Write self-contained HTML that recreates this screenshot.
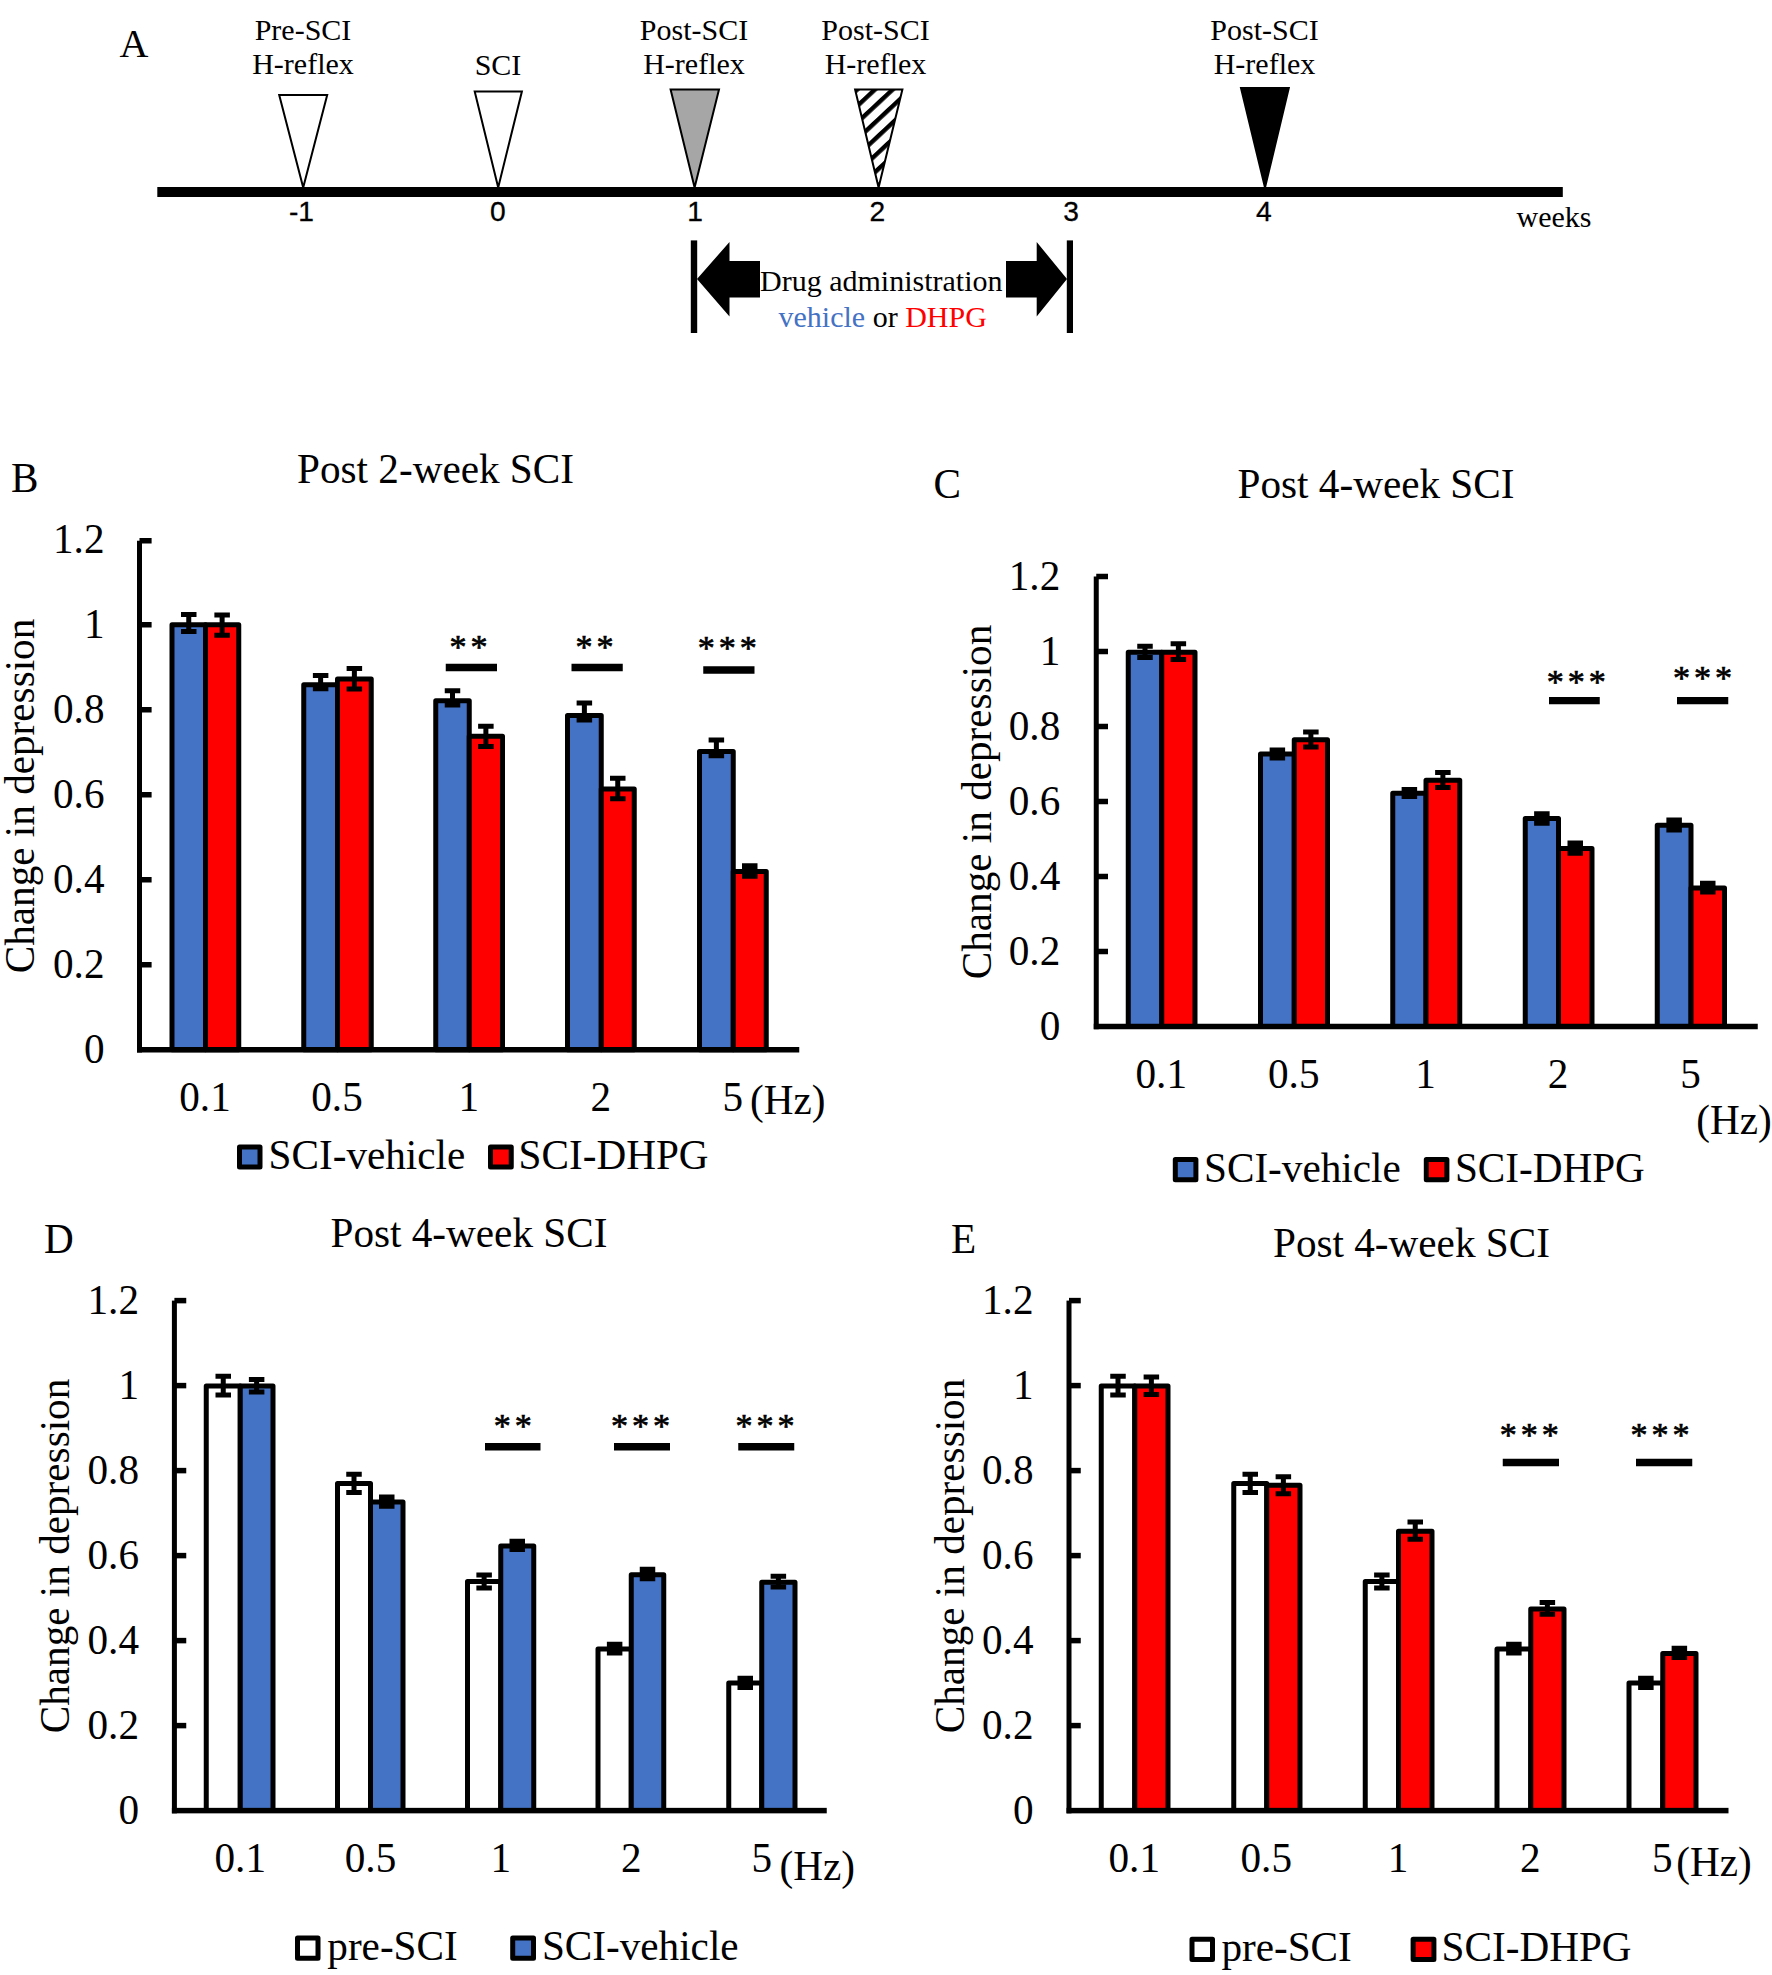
<!DOCTYPE html>
<html lang="en"><head><meta charset="utf-8"><title>Figure</title>
<style>html,body{margin:0;padding:0;background:#fff}svg{display:block}.s{font-family:"Liberation Serif","Times New Roman",serif}.n{font-family:"Liberation Sans",Arial,sans-serif}.b{stroke:#000;stroke-width:5;stroke-linejoin:round}.e{stroke:#000;stroke-width:5;fill:none;stroke-linecap:butt}.a{stroke:#000;stroke-width:.7}text{fill:#000}</style></head><body>
<svg width="1772" height="1975" viewBox="0 0 1772 1975">
<defs><pattern id="hatch" width="12.1" height="12.1" patternUnits="userSpaceOnUse" patternTransform="translate(878.6 119.2) rotate(-43) translate(0 -2.2)"><rect width="12.1" height="12.1" fill="#fff"/><rect y="0" width="12.1" height="4.4" fill="#000"/></pattern></defs>
<rect width="1772" height="1975" fill="#fff"/>
<text class="s" x="119.5" y="56.5" font-size="40">A</text>
<rect x="157.3" y="187" width="1405.5" height="10" fill="#000"/>
<text class="s" x="303" y="39.5" font-size="30" text-anchor="middle">Pre-SCI</text>
<text class="s" x="303" y="74" font-size="30" text-anchor="middle">H-reflex</text>
<text class="s" x="498" y="74.8" font-size="30" text-anchor="middle">SCI</text>
<text class="s" x="694" y="39.5" font-size="30" text-anchor="middle">Post-SCI</text>
<text class="s" x="694" y="74" font-size="30" text-anchor="middle">H-reflex</text>
<text class="s" x="875.5" y="39.5" font-size="30" text-anchor="middle">Post-SCI</text>
<text class="s" x="875.5" y="74" font-size="30" text-anchor="middle">H-reflex</text>
<text class="s" x="1264.5" y="39.5" font-size="30" text-anchor="middle">Post-SCI</text>
<text class="s" x="1264.5" y="74" font-size="30" text-anchor="middle">H-reflex</text>
<path d="M279.2 95H327.2L303.2 187.5Z" fill="#fff" stroke="#000" stroke-width="2" stroke-linejoin="miter"/>
<path d="M474.7 91.4H521.9L498.2 187.5Z" fill="#fff" stroke="#000" stroke-width="2" stroke-linejoin="miter"/>
<path d="M670.6 89.4H719L694.6 187.5Z" fill="#A6A6A6" stroke="#000" stroke-width="2" stroke-linejoin="miter"/>
<path d="M855.1 89.4H902.4L878.6 187.5Z" fill="url(#hatch)" stroke="#000" stroke-width="2" stroke-linejoin="miter"/>
<path d="M1241 88H1288.8L1265 187.5Z" fill="#000" stroke="#000" stroke-width="2" stroke-linejoin="miter"/>
<text class="n" x="301.5" y="221.2" font-size="28.2" text-anchor="middle" stroke="#000" stroke-width=".3">-1</text>
<text class="n" x="497.8" y="221.2" font-size="28.2" text-anchor="middle" stroke="#000" stroke-width=".3">0</text>
<text class="n" x="695" y="221.2" font-size="28.2" text-anchor="middle" stroke="#000" stroke-width=".3">1</text>
<text class="n" x="877.3" y="221.2" font-size="28.2" text-anchor="middle" stroke="#000" stroke-width=".3">2</text>
<text class="n" x="1071" y="221.2" font-size="28.2" text-anchor="middle" stroke="#000" stroke-width=".3">3</text>
<text class="n" x="1263.8" y="221.2" font-size="28.2" text-anchor="middle" stroke="#000" stroke-width=".3">4</text>
<text class="s" x="1516.5" y="227" font-size="30">weeks</text>
<rect x="690.8" y="240.4" width="6.4" height="92.6" fill="#000"/>
<rect x="1066.8" y="240.4" width="6.2" height="92.6" fill="#000"/>
<path d="M697 279L729.5 242V261H760V297.5H729.5V316.5Z"/>
<path d="M1067 279L1036.7 242V261H1006V297.5H1036.7V316.5Z"/>
<text class="s" x="760" y="290.8" font-size="30">Drug administration</text>
<text class="s" x="778.5" y="326.8" font-size="30"><tspan fill="#4472C4">vehicle</tspan> or <tspan fill="#FF0000">DHPG</tspan></text>
<rect class="b" x="172" y="624.75" width="33.5" height="425" fill="#4472C4"/>
<rect class="b" x="205.5" y="624.75" width="33.25" height="425" fill="#FF0000"/>
<rect class="b" x="303.75" y="684.75" width="33.75" height="365" fill="#4472C4"/>
<rect class="b" x="337.5" y="679" width="33.75" height="370.75" fill="#FF0000"/>
<rect class="b" x="435.75" y="700.8" width="33.5" height="348.95" fill="#4472C4"/>
<rect class="b" x="469.25" y="736.2" width="33.25" height="313.55" fill="#FF0000"/>
<rect class="b" x="567.5" y="715.4" width="33.75" height="334.35" fill="#4472C4"/>
<rect class="b" x="601.25" y="789" width="33" height="260.75" fill="#FF0000"/>
<rect class="b" x="699.5" y="751.5" width="33.75" height="298.25" fill="#4472C4"/>
<rect class="b" x="733.25" y="871.5" width="33" height="178.25" fill="#FF0000"/>
<rect x="137" y="540.75" width="5" height="511.75" fill="#000"/>
<rect x="137" y="1047" width="662.25" height="5.5" fill="#000"/>
<rect x="139.5" y="962" width="12.1" height="5.5" fill="#000"/>
<rect x="139.5" y="877" width="12.1" height="5.5" fill="#000"/>
<rect x="139.5" y="792" width="12.1" height="5.5" fill="#000"/>
<rect x="139.5" y="707" width="12.1" height="5.5" fill="#000"/>
<rect x="139.5" y="622" width="12.1" height="5.5" fill="#000"/>
<rect x="139.5" y="538" width="12.1" height="5.5" fill="#000"/>
<path class="e" d="M181 614.5H196.5M181 631.5H196.5M188.75 614.5V631.5"/>
<path class="e" d="M214.38 615H229.88M214.38 635.2H229.88M222.12 615V635.2"/>
<path class="e" d="M312.88 675.6H328.38M312.88 688.75H328.38M320.62 675.6V688.75"/>
<path class="e" d="M346.62 668.5H362.12M346.62 689H362.12M354.38 668.5V689"/>
<path class="e" d="M444.75 690.65H460.25M444.75 704.9H460.25M452.5 690.65V704.9"/>
<path class="e" d="M478.12 726.2H493.62M478.12 746.5H493.62M485.88 726.2V746.5"/>
<path class="e" d="M576.62 703.1H592.12M576.62 720.1H592.12M584.38 703.1V720.1"/>
<path class="e" d="M610 778.25H625.5M610 798.75H625.5M617.75 778.25V798.75"/>
<path class="e" d="M708.62 740H724.12M708.62 755.75H724.12M716.38 740V755.75"/>
<rect x="742" y="863.25" width="15.5" height="15.5" fill="#000"/>
<text class="s" x="104.5" y="1062.85" font-size="41.2" text-anchor="end">0</text>
<text class="s" x="104.5" y="977.85" font-size="41.2" text-anchor="end">0.2</text>
<text class="s" x="104.5" y="892.85" font-size="41.2" text-anchor="end">0.4</text>
<text class="s" x="104.5" y="807.85" font-size="41.2" text-anchor="end">0.6</text>
<text class="s" x="104.5" y="722.85" font-size="41.2" text-anchor="end">0.8</text>
<text class="s" x="104.5" y="637.85" font-size="41.2" text-anchor="end">1</text>
<text class="s" x="104.5" y="552.85" font-size="41.2" text-anchor="end">1.2</text>
<text class="s" x="205" y="1111" font-size="41.2" text-anchor="middle">0.1</text>
<text class="s" x="337" y="1111" font-size="41.2" text-anchor="middle">0.5</text>
<text class="s" x="468.75" y="1111" font-size="41.2" text-anchor="middle">1</text>
<text class="s" x="600.75" y="1111" font-size="41.2" text-anchor="middle">2</text>
<text class="s" x="732.75" y="1111" font-size="41.2" text-anchor="middle">5</text>
<text class="s" x="750" y="1113.75" font-size="41.2">(Hz)</text>
<text class="s" x="297.1" y="482.5" font-size="41.2">Post 2-week SCI</text>
<text class="s" x="11" y="491.5" font-size="41.2">B</text>
<text class="s" font-size="41.2" text-anchor="middle" transform="translate(33.75 796) rotate(-90)">Change in depression</text>
<text class="s a" x="449.5" y="658.25" font-size="34" letter-spacing="4">**</text>
<rect x="445.75" y="663.75" width="51.25" height="7.5" fill="#000"/>
<text class="s a" x="575.4" y="658.25" font-size="34" letter-spacing="4">**</text>
<rect x="571.5" y="663.75" width="51.25" height="7.5" fill="#000"/>
<text class="s a" x="697.75" y="659" font-size="34" letter-spacing="4">***</text>
<rect x="703.25" y="666.25" width="51.25" height="7.5" fill="#000"/>
<rect class="b" x="239.5" y="1147" width="20.5" height="20" fill="#4472C4"/>
<text class="s" x="268.6" y="1168.75" font-size="41.2">SCI-vehicle</text>
<rect class="b" x="490.5" y="1147" width="20.75" height="20" fill="#FF0000"/>
<text class="s" x="518.6" y="1168.75" font-size="41.2">SCI-DHPG</text>
<rect class="b" x="1128.25" y="652.25" width="33.5" height="374.25" fill="#4472C4"/>
<rect class="b" x="1161.75" y="652.25" width="33.25" height="374.25" fill="#FF0000"/>
<rect class="b" x="1260.5" y="754" width="33.75" height="272.5" fill="#4472C4"/>
<rect class="b" x="1294.25" y="739.75" width="33.25" height="286.75" fill="#FF0000"/>
<rect class="b" x="1392.75" y="793.25" width="33.25" height="233.25" fill="#4472C4"/>
<rect class="b" x="1426" y="780.25" width="33.75" height="246.25" fill="#FF0000"/>
<rect class="b" x="1525.25" y="818.5" width="33.25" height="208" fill="#4472C4"/>
<rect class="b" x="1558.5" y="848.5" width="33.5" height="178" fill="#FF0000"/>
<rect class="b" x="1657.25" y="825.25" width="33.75" height="201.25" fill="#4472C4"/>
<rect class="b" x="1691" y="887.9" width="33.5" height="138.6" fill="#FF0000"/>
<rect x="1093.75" y="576.5" width="5" height="452.75" fill="#000"/>
<rect x="1093.75" y="1023.75" width="664" height="5.5" fill="#000"/>
<rect x="1096.25" y="948.75" width="11.75" height="5.5" fill="#000"/>
<rect x="1096.25" y="873.75" width="11.75" height="5.5" fill="#000"/>
<rect x="1096.25" y="798.75" width="11.75" height="5.5" fill="#000"/>
<rect x="1096.25" y="723.75" width="11.75" height="5.5" fill="#000"/>
<rect x="1096.25" y="648.75" width="11.75" height="5.5" fill="#000"/>
<rect x="1096.25" y="573.75" width="11.75" height="5.5" fill="#000"/>
<path class="e" d="M1137.25 646.25H1152.75M1137.25 657.5H1152.75M1145 646.25V657.5"/>
<path class="e" d="M1170.62 643.75H1186.12M1170.62 659.5H1186.12M1178.38 643.75V659.5"/>
<rect x="1269.62" y="747.5" width="15.5" height="13" fill="#000"/>
<path class="e" d="M1303.12 732H1318.62M1303.12 747H1318.62M1310.88 732V747"/>
<rect x="1401.62" y="787" width="15.5" height="12" fill="#000"/>
<path class="e" d="M1435.12 772.5H1450.62M1435.12 787.5H1450.62M1442.88 772.5V787.5"/>
<rect x="1534.12" y="811.25" width="15.5" height="14.5" fill="#000"/>
<rect x="1567.5" y="840.5" width="15.5" height="15.25" fill="#000"/>
<rect x="1666.38" y="817.5" width="15.5" height="15" fill="#000"/>
<rect x="1700" y="880.75" width="15.5" height="13.75" fill="#000"/>
<text class="s" x="1060.25" y="1039.6" font-size="41.2" text-anchor="end">0</text>
<text class="s" x="1060.25" y="964.6" font-size="41.2" text-anchor="end">0.2</text>
<text class="s" x="1060.25" y="889.6" font-size="41.2" text-anchor="end">0.4</text>
<text class="s" x="1060.25" y="814.6" font-size="41.2" text-anchor="end">0.6</text>
<text class="s" x="1060.25" y="739.6" font-size="41.2" text-anchor="end">0.8</text>
<text class="s" x="1060.25" y="664.6" font-size="41.2" text-anchor="end">1</text>
<text class="s" x="1060.25" y="589.6" font-size="41.2" text-anchor="end">1.2</text>
<text class="s" x="1161.25" y="1088" font-size="41.2" text-anchor="middle">0.1</text>
<text class="s" x="1293.75" y="1088" font-size="41.2" text-anchor="middle">0.5</text>
<text class="s" x="1425.5" y="1088" font-size="41.2" text-anchor="middle">1</text>
<text class="s" x="1558" y="1088" font-size="41.2" text-anchor="middle">2</text>
<text class="s" x="1690.5" y="1088" font-size="41.2" text-anchor="middle">5</text>
<text class="s" x="1696.25" y="1133.75" font-size="41.2">(Hz)</text>
<text class="s" x="1237.6" y="498" font-size="41.2">Post 4-week SCI</text>
<text class="s" x="933.5" y="498" font-size="41.2">C</text>
<text class="s" font-size="41.2" text-anchor="middle" transform="translate(990.5 802) rotate(-90)">Change in depression</text>
<text class="s a" x="1546.75" y="693.25" font-size="34" letter-spacing="4">***</text>
<rect x="1549" y="697" width="50.75" height="7.25" fill="#000"/>
<text class="s a" x="1673" y="689" font-size="34" letter-spacing="4">***</text>
<rect x="1677" y="697" width="51.25" height="7.25" fill="#000"/>
<rect class="b" x="1175.3" y="1159.4" width="20.6" height="20.3" fill="#4472C4"/>
<text class="s" x="1204" y="1181.5" font-size="41.2">SCI-vehicle</text>
<rect class="b" x="1426.3" y="1159.4" width="20.6" height="20.3" fill="#FF0000"/>
<text class="s" x="1454.9" y="1181.5" font-size="41.2">SCI-DHPG</text>
<rect class="b" x="206.25" y="1386" width="34" height="424.6" fill="#FFFFFF"/>
<rect class="b" x="240.25" y="1386" width="32.75" height="424.6" fill="#4472C4"/>
<rect class="b" x="337.5" y="1483.5" width="33" height="327.1" fill="#FFFFFF"/>
<rect class="b" x="370.5" y="1501.9" width="32.5" height="308.7" fill="#4472C4"/>
<rect class="b" x="467.5" y="1581.5" width="33.25" height="229.1" fill="#FFFFFF"/>
<rect class="b" x="500.75" y="1546" width="33" height="264.6" fill="#4472C4"/>
<rect class="b" x="598" y="1649" width="33.25" height="161.6" fill="#FFFFFF"/>
<rect class="b" x="631.25" y="1574.75" width="32.5" height="235.85" fill="#4472C4"/>
<rect class="b" x="728.75" y="1682.9" width="33" height="127.7" fill="#FFFFFF"/>
<rect class="b" x="761.75" y="1582.25" width="33.25" height="228.35" fill="#4472C4"/>
<rect x="171.9" y="1300.6" width="5" height="512.75" fill="#000"/>
<rect x="171.9" y="1807.85" width="654.85" height="5.5" fill="#000"/>
<rect x="174.4" y="1722.85" width="11.85" height="5.5" fill="#000"/>
<rect x="174.4" y="1637.85" width="11.85" height="5.5" fill="#000"/>
<rect x="174.4" y="1552.85" width="11.85" height="5.5" fill="#000"/>
<rect x="174.4" y="1467.85" width="11.85" height="5.5" fill="#000"/>
<rect x="174.4" y="1382.85" width="11.85" height="5.5" fill="#000"/>
<rect x="174.4" y="1297.85" width="11.85" height="5.5" fill="#000"/>
<path class="e" d="M215.5 1376.25H231M215.5 1395H231M223.25 1376.25V1395"/>
<path class="e" d="M248.88 1379.5H264.38M248.88 1392H264.38M256.62 1379.5V1392"/>
<path class="e" d="M346.25 1474.25H361.75M346.25 1492.5H361.75M354 1474.25V1492.5"/>
<rect x="379" y="1494.5" width="15.5" height="14.25" fill="#000"/>
<path class="e" d="M476.38 1575H491.88M476.38 1588H491.88M484.12 1575V1588"/>
<rect x="509.5" y="1538.75" width="15.5" height="13.25" fill="#000"/>
<rect x="606.88" y="1641.75" width="15.5" height="13.75" fill="#000"/>
<rect x="639.75" y="1566.75" width="15.5" height="14.5" fill="#000"/>
<rect x="737.5" y="1675.75" width="15.5" height="14.25" fill="#000"/>
<path class="e" d="M770.62 1576.25H786.12M770.62 1587H786.12M778.38 1576.25V1587"/>
<text class="s" x="139" y="1823.7" font-size="41.2" text-anchor="end">0</text>
<text class="s" x="139" y="1738.7" font-size="41.2" text-anchor="end">0.2</text>
<text class="s" x="139" y="1653.7" font-size="41.2" text-anchor="end">0.4</text>
<text class="s" x="139" y="1568.7" font-size="41.2" text-anchor="end">0.6</text>
<text class="s" x="139" y="1483.7" font-size="41.2" text-anchor="end">0.8</text>
<text class="s" x="139" y="1398.7" font-size="41.2" text-anchor="end">1</text>
<text class="s" x="139" y="1313.7" font-size="41.2" text-anchor="end">1.2</text>
<text class="s" x="240.25" y="1871.5" font-size="41.2" text-anchor="middle">0.1</text>
<text class="s" x="370.5" y="1871.5" font-size="41.2" text-anchor="middle">0.5</text>
<text class="s" x="500.75" y="1871.5" font-size="41.2" text-anchor="middle">1</text>
<text class="s" x="631.25" y="1871.5" font-size="41.2" text-anchor="middle">2</text>
<text class="s" x="761.75" y="1871.5" font-size="41.2" text-anchor="middle">5</text>
<text class="s" x="779.5" y="1880.3" font-size="41.2">(Hz)</text>
<text class="s" x="330.5" y="1247" font-size="41.2">Post 4-week SCI</text>
<text class="s" x="44" y="1253.25" font-size="41.2">D</text>
<text class="s" font-size="41.2" text-anchor="middle" transform="translate(68.75 1556) rotate(-90)">Change in depression</text>
<text class="s a" x="493.75" y="1437" font-size="34" letter-spacing="4">**</text>
<rect x="485" y="1443" width="55.5" height="7.5" fill="#000"/>
<text class="s a" x="611.1" y="1437" font-size="34" letter-spacing="4">***</text>
<rect x="614" y="1443" width="56" height="7.5" fill="#000"/>
<text class="s a" x="735.5" y="1437" font-size="34" letter-spacing="4">***</text>
<rect x="738.25" y="1443" width="56" height="7.5" fill="#000"/>
<rect class="b" x="297.5" y="1938" width="20.5" height="20.25" fill="#FFFFFF"/>
<text class="s" x="327.3" y="1959.5" font-size="41.2">pre-SCI</text>
<rect class="b" x="512.7" y="1938" width="20.8" height="20.25" fill="#4472C4"/>
<text class="s" x="541.9" y="1959.5" font-size="41.2">SCI-vehicle</text>
<rect class="b" x="1101.25" y="1386" width="33.5" height="424.6" fill="#FFFFFF"/>
<rect class="b" x="1134.75" y="1386" width="33.25" height="424.6" fill="#FF0000"/>
<rect class="b" x="1233.75" y="1483.5" width="33" height="327.1" fill="#FFFFFF"/>
<rect class="b" x="1266.75" y="1485.25" width="33.25" height="325.35" fill="#FF0000"/>
<rect class="b" x="1365.25" y="1581.5" width="33.25" height="229.1" fill="#FFFFFF"/>
<rect class="b" x="1398.5" y="1531.25" width="33.5" height="279.35" fill="#FF0000"/>
<rect class="b" x="1497" y="1649" width="33.75" height="161.6" fill="#FFFFFF"/>
<rect class="b" x="1530.75" y="1609" width="33.25" height="201.6" fill="#FF0000"/>
<rect class="b" x="1629" y="1682.9" width="33.75" height="127.7" fill="#FFFFFF"/>
<rect class="b" x="1662.75" y="1653.4" width="33.25" height="157.2" fill="#FF0000"/>
<rect x="1066.5" y="1300.6" width="5" height="512.75" fill="#000"/>
<rect x="1066.5" y="1807.85" width="662" height="5.5" fill="#000"/>
<rect x="1069" y="1722.85" width="11.75" height="5.5" fill="#000"/>
<rect x="1069" y="1637.85" width="11.75" height="5.5" fill="#000"/>
<rect x="1069" y="1552.85" width="11.75" height="5.5" fill="#000"/>
<rect x="1069" y="1467.85" width="11.75" height="5.5" fill="#000"/>
<rect x="1069" y="1382.85" width="11.75" height="5.5" fill="#000"/>
<rect x="1069" y="1297.85" width="11.75" height="5.5" fill="#000"/>
<path class="e" d="M1110.25 1376.25H1125.75M1110.25 1395H1125.75M1118 1376.25V1395"/>
<path class="e" d="M1143.62 1377H1159.12M1143.62 1394.5H1159.12M1151.38 1377V1394.5"/>
<path class="e" d="M1242.5 1474.25H1258M1242.5 1492.5H1258M1250.25 1474.25V1492.5"/>
<path class="e" d="M1275.62 1476.75H1291.12M1275.62 1493.75H1291.12M1283.38 1476.75V1493.75"/>
<path class="e" d="M1374.12 1575H1389.62M1374.12 1588H1389.62M1381.88 1575V1588"/>
<path class="e" d="M1407.5 1522H1423M1407.5 1539.25H1423M1415.25 1522V1539.25"/>
<rect x="1506.12" y="1641.75" width="15.5" height="13.75" fill="#000"/>
<path class="e" d="M1539.62 1602.5H1555.12M1539.62 1614.25H1555.12M1547.38 1602.5V1614.25"/>
<rect x="1638.12" y="1675.75" width="15.5" height="14.25" fill="#000"/>
<rect x="1671.62" y="1645.75" width="15.5" height="14.25" fill="#000"/>
<text class="s" x="1033.5" y="1823.7" font-size="41.2" text-anchor="end">0</text>
<text class="s" x="1033.5" y="1738.7" font-size="41.2" text-anchor="end">0.2</text>
<text class="s" x="1033.5" y="1653.7" font-size="41.2" text-anchor="end">0.4</text>
<text class="s" x="1033.5" y="1568.7" font-size="41.2" text-anchor="end">0.6</text>
<text class="s" x="1033.5" y="1483.7" font-size="41.2" text-anchor="end">0.8</text>
<text class="s" x="1033.5" y="1398.7" font-size="41.2" text-anchor="end">1</text>
<text class="s" x="1033.5" y="1313.7" font-size="41.2" text-anchor="end">1.2</text>
<text class="s" x="1134.25" y="1871.5" font-size="41.2" text-anchor="middle">0.1</text>
<text class="s" x="1266.25" y="1871.5" font-size="41.2" text-anchor="middle">0.5</text>
<text class="s" x="1398" y="1871.5" font-size="41.2" text-anchor="middle">1</text>
<text class="s" x="1530.25" y="1871.5" font-size="41.2" text-anchor="middle">2</text>
<text class="s" x="1662.25" y="1871.5" font-size="41.2" text-anchor="middle">5</text>
<text class="s" x="1676.3" y="1876.3" font-size="41.2">(Hz)</text>
<text class="s" x="1273" y="1257" font-size="41.2">Post 4-week SCI</text>
<text class="s" x="951" y="1253.25" font-size="41.2">E</text>
<text class="s" font-size="41.2" text-anchor="middle" transform="translate(963.75 1556) rotate(-90)">Change in depression</text>
<text class="s a" x="1499.75" y="1445.75" font-size="34" letter-spacing="4">***</text>
<rect x="1502.75" y="1458.75" width="56.25" height="7.5" fill="#000"/>
<text class="s a" x="1630.5" y="1445.75" font-size="34" letter-spacing="4">***</text>
<rect x="1636" y="1458.75" width="56.25" height="7.5" fill="#000"/>
<rect class="b" x="1192" y="1939.25" width="20.5" height="20.25" fill="#FFFFFF"/>
<text class="s" x="1221.4" y="1961" font-size="41.2">pre-SCI</text>
<rect class="b" x="1413.1" y="1939.25" width="20.8" height="20.25" fill="#FF0000"/>
<text class="s" x="1441.6" y="1961" font-size="41.2">SCI-DHPG</text>
</svg></body></html>
